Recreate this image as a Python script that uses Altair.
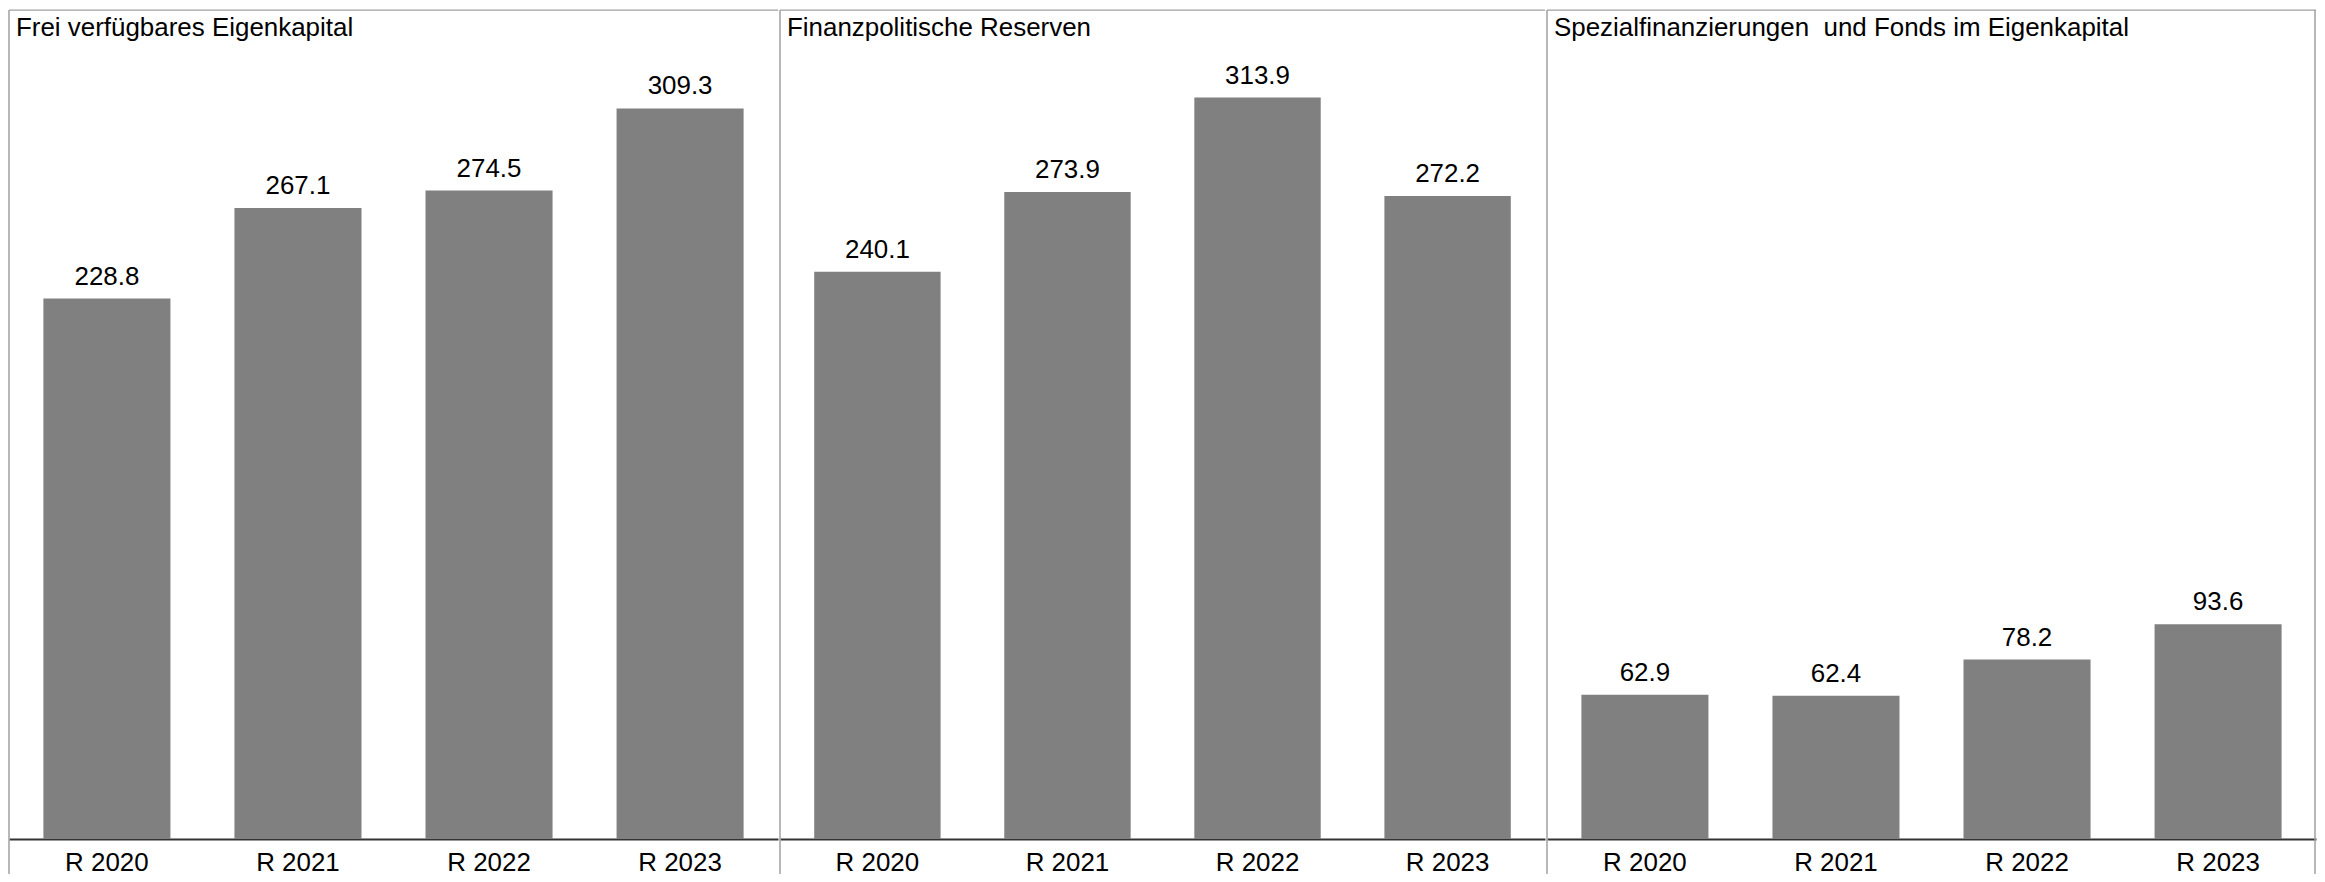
import altair as alt
import pandas as pd

categories = ["R 2020", "R 2021", "R 2022", "R 2023"]
panel_titles = [
    "Frei verfügbares Eigenkapital",
    "Finanzpolitische Reserven",
    "Spezialfinanzierungen  und Fonds im Eigenkapital",
]
frei = [228.8, 267.1, 274.5, 309.3]
reserven = [240.1, 273.9, 313.9, 272.2]
spezial = [62.9, 62.4, 78.2, 93.6]

FONT = "Liberation Sans"
FS = 26
H = 866
AXIS_OFFSET = -35
FRAME = "#a0a0a0"


def panel(title, values, width, y_domain, right_edge=False):
    df = pd.DataFrame({"cat": categories, "val": values})
    base = alt.Chart(df).encode(
        x=alt.X(
            "cat:N",
            sort=categories,
            scale=alt.Scale(paddingInner=0.335, paddingOuter=0.18),
            axis=alt.Axis(
                title=None,
                labelAngle=0,
                ticks=False,
                grid=False,
                domainColor="#333333",
                domainWidth=2,
                labelFont=FONT,
                labelFontSize=FS,
                labelColor="#000000",
                labelPadding=11,
                offset=AXIS_OFFSET,
            ),
        ),
        y=alt.Y("val:Q", scale=alt.Scale(domain=y_domain, nice=False, zero=False), axis=None),
    )
    bars = base.mark_bar(color="#808080")
    labels = base.mark_text(
        font=FONT, fontSize=FS, color="#000000", baseline="alphabetic", dy=-14
    ).encode(text=alt.Text("val:Q", format=".1f"))
    tdf = pd.DataFrame({"t": [title.replace("  ", " \u00a0")]})
    tbase = alt.Chart(tdf)
    ttl = tbase.mark_text(
        font=FONT, fontSize=FS, color="#000000", align="left", baseline="middle"
    ).encode(x=alt.value(7), y=alt.value(18), text="t:N")
    left = tbase.mark_rule(color=FRAME, strokeWidth=1.5).encode(
        x=alt.value(0), y=alt.value(0), y2=alt.value(H)
    )
    top = tbase.mark_rule(color=FRAME, strokeWidth=1.5).encode(
        x=alt.value(0), x2=alt.value(width), y=alt.value(0)
    )
    layers = [bars, labels, ttl, left, top]
    if right_edge:
        layers.append(
            tbase.mark_rule(color=FRAME, strokeWidth=1.5).encode(
                x=alt.value(width - 1), y=alt.value(0), y2=alt.value(H)
            )
        )
    return alt.layer(*layers).properties(width=width, height=H)


chart = alt.hconcat(
    panel(panel_titles[0], frei, 771, [-14.78, 350.9]),
    panel(panel_titles[1], reserven, 767, [-14.78, 350.9]),
    panel(panel_titles[2], spezial, 771, [-15.2, 361.3], right_edge=True),
    spacing=0,
).properties(padding=0).configure_view(
    strokeWidth=0
).configure_concat(spacing=0)

chart.save("out.html", embed_options={"renderer": "svg", "actions": False})
